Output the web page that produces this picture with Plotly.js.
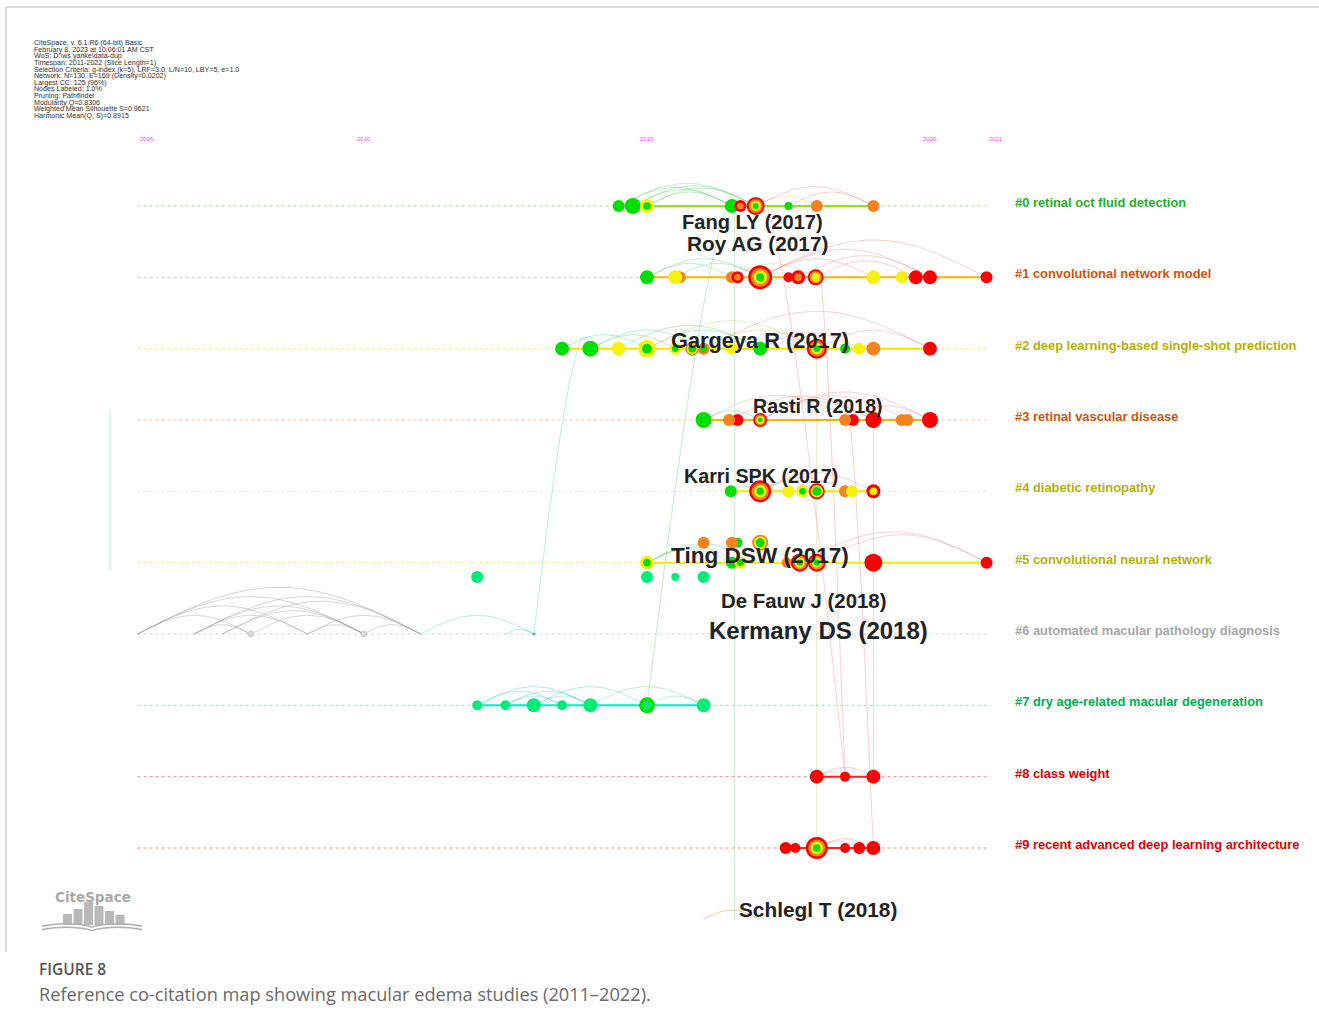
<!DOCTYPE html>
<html>
<head>
<meta charset="utf-8">
<script src="https://cdn.plot.ly/plotly-3.0.1.min.js"></script>
<style>
  html, body { margin: 0; padding: 0; background: #fff; }
  #chart { width: 1319px; height: 1030px; }
</style>
</head>
<body>
<div id="chart"></div>
<script>
// ---------------------------------------------------------------
// Timeline view of the reference co-citation network (CiteSpace)
// ---------------------------------------------------------------

// Year ticks printed above the timelines
const yearTicks = [2006, 2010, 2015, 2020, 2021];

// Cluster names (one timeline per cluster)
const clusterNames = [
  '#0 retinal oct fluid detection',
  '#1 convolutional network model',
  '#2 deep learning-based single-shot prediction',
  '#3 retinal vascular disease',
  '#4 diabetic retinopathy',
  '#5 convolutional neural network',
  '#6 automated macular pathology diagnosis',
  '#7 dry age-related macular degeneration',
  '#8 class weight',
  '#9 recent advanced deep learning architecture'
];

// Cited references: publication year, citation frequency,
// citation tree-ring colours (outer ring -> inner ring)
const c0Year = [2014.5, 2014.75, 2015, 2016.5, 2016.65, 2016.92, 2017.5, 2018, 2019];
const c0Freq = [6, 8, 7, 7, 6, 9, 4, 6, 6];
const c0Ring = ['g', 'g', 'yg', 'g', 'ro', 'royg', 'g', 'o', 'o'];

const c1Year = [2015, 2015.58, 2015.5, 2016.5, 2016.6, 2017, 2017.5, 2017.67, 2017.98, 2019, 2019.5, 2019.75, 2020, 2021];
const c1Freq = [7, 6, 7, 6, 6, 12, 5, 7, 8, 7, 6, 7, 7, 6];
const c1Ring = ['g', 'o', 'y', 'o', 'ro', 'royg', 'r', 'ro', 'roy', 'y', 'y', 'r', 'r', 'r'];

const c2Year = [2013.5, 2014, 2014.5, 2015, 2015.5, 2016, 2015.8, 2016.5, 2017, 2018, 2018.5, 2018.75, 2019, 2020];
const c2Freq = [7, 8, 7, 9, 6, 6, 7, 6, 7, 10, 5, 6, 7, 7];
const c2Ring = ['g', 'g', 'y', 'yg', 'yg', 'og', 'oyg', 'y', 'g', 'royg', 'g', 'y', 'o', 'r'];

const c3Year = [2016, 2016.6, 2016.45, 2017, 2018.64, 2018.5, 2019, 2019.6, 2019.5, 2020];
const c3Freq = [8, 6, 6, 7, 6, 6, 8, 6, 6, 8];
const c3Ring = ['g', 'r', 'o', 'royg', 'r', 'o', 'r', 'o', 'o', 'r'];

const c4Year = [2016.48, 2017, 2017.5, 2017.75, 2018, 2018.5, 2018.62, 2019];
const c4Freq = [6, 11, 6, 6, 8, 6, 6, 7];
const c4Ring = ['g', 'royg', 'y', 'yg', 'ryg', 'o', 'y', 'ry'];

const c5Year = [2015, 2016.5, 2016.65, 2017.47, 2017.7, 2018, 2019, 2021];
const c5Freq = [7, 6, 6, 5, 9, 9, 9, 6];
const c5Ring = ['yg', 'g', 'yg', 'o', 'royg', 'royg', 'r', 'r'];

// references of cluster #5 stacked above / below its timeline
const c5UpYear = [2016, 2016.6, 2016.5, 2017];
const c5UpFreq = [6, 5, 6, 8];
const c5UpRing = ['o', 'g', 'o', 'oyg'];

const c5LowYear = [2012, 2015, 2015.5, 2016];
const c5LowFreq = [6, 6, 4, 6];
const c5LowRing = ['s', 's', 's', 's'];

const c6Year = [2008, 2010, 2013];
const c6Freq = [3, 3, 1.5];
const c6Ring = ['a', 'a', 'c'];

const c7Year = [2012, 2012.5, 2013, 2013.5, 2014, 2015, 2016];
const c7Freq = [5, 5, 7, 5, 7, 8, 7];
const c7Ring = ['s', 's', 's', 's', 's', 'gs', 's'];

const c8Year = [2018, 2018.5, 2019];
const c8Freq = [7, 5, 7];
const c8Ring = ['r', 'r', 'r'];

const c9Year = [2017.45, 2017.62, 2018, 2018.5, 2018.75, 2019];
const c9Freq = [6, 5, 11, 5, 6, 7];
const c9Ring = ['r', 'r', 'royg', 'r', 'r', 'r'];

// Co-citation links inside each cluster: [year A, year B]
const c0Links = [[2014.5, 2016.5], [2014.75, 2016.92], [2015, 2016.5], [2014.75, 2016.5], [2015, 2016.92], [2014.5, 2016.92], [2016.92, 2018], [2016.92, 2019], [2017.5, 2019]];
const c1Links = [[2015, 2017], [2015.5, 2017], [2015, 2016.5], [2017, 2019], [2017, 2020], [2017.67, 2020], [2017.98, 2019.75], [2016.5, 2017.98], [2017, 2021]];
const c2Links = [[2013.5, 2015], [2014, 2015.5], [2014, 2016], [2015, 2017], [2015, 2018], [2016, 2018], [2014.5, 2017], [2017, 2018.75], [2018, 2020], [2016, 2020]];
const c3Links = [[2016, 2017], [2016.45, 2019], [2017, 2019], [2017, 2020], [2018.5, 2020], [2016, 2018.64], [2017, 2019.6]];
const c4Links = [[2017, 2018], [2017, 2019], [2017.5, 2018.62], [2016.48, 2017], [2017, 2018.5]];
const c5Links = [[2015, 2016.65], [2015, 2017], [2017.7, 2021], [2018, 2021], [2016.5, 2017.7], [2015, 2016.5]];
const c6Links = [[2006, 2011], [2006, 2010], [2006, 2009], [2006, 2008], [2007, 2011], [2007, 2010], [2007, 2009],
                 [2007.5, 2011], [2007.5, 2010], [2008, 2010], [2009, 2011], [2009, 2010], [2010, 2011], [2007, 2008],
                 [2011, 2013], [2012.5, 2013]];
const c7Links = [[2012, 2014], [2012, 2013.5], [2012.5, 2014], [2013, 2014], [2013, 2015], [2014, 2016], [2015, 2016], [2012.5, 2013.5]];
const c8Links = [[2018, 2019], [2018, 2018.5]];
const c9Links = [[2017.45, 2018], [2018, 2019], [2018, 2018.75]];
const c10Links = [[2016, 2017]];

// Links between clusters: [year A, cluster A, year B, cluster B]
const crossLinks = [
  [2016.55, 0, 2016.55, 10],
  [2013, 6, 2014, 2],
  [2015, 7, 2016.65, 0],
  [2016.92, 0, 2018.5, 8],
  [2018, 1, 2018.5, 8],
  [2018.5, 3, 2019, 9],
  [2019, 3, 2019, 8],
  [2018, 2, 2018, 9]
];

// Labelled references
const refLabels = ['Fang LY (2017)', 'Roy AG (2017)', 'Gargeya R (2017)', 'Rasti R (2018)', 'Karri SPK (2017)',
                   'Ting DSW (2017)', 'De Fauw J (2018)', 'Kermany DS (2018)', 'Schlegl T (2018)'];

// Network summary printed in the corner
const infoLines = [
  'CiteSpace, v. 6.1.R6 (64-bit) Basic',
  'February 8, 2023 at 10:06:01 AM CST',
  'WoS: D:\\ws yanke\\data-dup',
  'Timespan: 2011-2022 (Slice Length=1)',
  'Selection Criteria: g-index (k=5), LRF=3.0, L/N=10, LBY=5, e=1.0',
  'Network: N=130, E=169 (Density=0.0202)',
  'Largest CC: 125 (96%)',
  'Nodes Labeled: 1.0%',
  'Pruning: Pathfinder',
  'Modularity Q=0.8306',
  'Weighted Mean Silhouette S=0.9621',
  'Harmonic Mean(Q, S)=0.8915'
];

const figureTag = 'FIGURE 8';
const figureCaption = 'Reference co-citation map showing macular edema studies (2011\u20132022).';

// ---------------------------------------------------------------
// Styling
// ---------------------------------------------------------------
const W = 1319, H = 1030;
const X_RANGE = [2003.569, 2026.873];
const Y_RANGE = [11.552, -2.888];     // cluster lanes, top to bottom
const px = x => x / W;                // page pixel -> paper
const py = y => 1 - y / H;

const RING = { g: '#00e000', y: '#f7f20a', o: '#f5821e', r: '#fa0000', s: '#00ec78', a: '#dadada', c: '#12d8a8' };
const labelColor = ['#1fb41f', '#d4540c', '#b4b400', '#d4540c', '#b4b400', '#b4b400', '#a8a8a8', '#00b050', '#e40000', '#e40000'];
const lineColor  = ['#86f000', '#ffb400', '#f2e600', '#ffb000', '#f2ea00', '#f2ea00', null, '#00f0c0', '#ff1e1e', '#ff1e1e'];
const dotColor   = ['#9ee89e', '#ffb39a', '#ecec90', '#ffbe9a', '#ecec90', '#ecec90', '#d6d6d6', '#7febd0', '#ff8c8c', '#ff8c8c'];

function linkColor(y) {
  if (y <= 2011) return 'rgba(150,150,150,0.38)';
  if (y <= 2015) return 'rgba(0,200,170,0.30)';
  if (y < 2017.5) return 'rgba(40,190,70,0.28)';
  if (y < 2018.5) return 'rgba(190,190,90,0.32)';
  return 'rgba(240,90,90,0.28)';
}

const traces = [];

// dotted cluster timelines
for (let c = 0; c < clusterNames.length; c++) {
  traces.push({
    x: [yearTicks[0], yearTicks[yearTicks.length - 1]], y: [c, c], mode: 'lines',
    line: { color: dotColor[c], width: 1, dash: 'dot' }, hoverinfo: 'skip', showlegend: false
  });
}

// arcs inside each cluster
const clusterLinks = [c0Links, c1Links, c2Links, c3Links, c4Links, c5Links, c6Links, c7Links, c8Links, c9Links, c10Links];
const arcBuckets = {};
clusterLinks.forEach((links, lane) => {
  links.forEach(([a, b]) => {
    const col = lane === 10 ? 'rgba(200,180,110,0.55)' : linkColor(Math.max(a, b));
    const bucket = arcBuckets[col] || (arcBuckets[col] = { x: [], y: [] });
    const h = 0.131 * Math.abs(b - a);
    for (let i = 0; i <= 30; i++) {
      const t = i / 30;
      bucket.x.push(a + (b - a) * t);
      bucket.y.push(lane - h * Math.sin(Math.PI * t));
    }
    bucket.x.push(null); bucket.y.push(null);
  });
});

// curved links between clusters
crossLinks.forEach(([xa, la, xb, lb]) => {
  const col = linkColor(Math.max(xa, xb));
  const bucket = arcBuckets[col] || (arcBuckets[col] = { x: [], y: [] });
  if (Math.abs(xb - xa) < 0.2) {
    bucket.x.push(xa, xb, null); bucket.y.push(la, lb, null);
    return;
  }
  const up = la < lb ? [xa, la] : [xb, lb];
  const dn = la < lb ? [xb, lb] : [xa, la];
  const cx = up[0] + 0.25 * (dn[0] - up[0]);
  const cy = up[1] - 1;
  for (let i = 0; i <= 40; i++) {
    const t = i / 40;
    bucket.x.push((1 - t) * (1 - t) * dn[0] + 2 * t * (1 - t) * cx + t * t * up[0]);
    bucket.y.push((1 - t) * (1 - t) * dn[1] + 2 * t * (1 - t) * cy + t * t * up[1]);
  }
  bucket.x.push(null); bucket.y.push(null);
});
Object.keys(arcBuckets).forEach(col => {
  traces.push({ x: arcBuckets[col].x, y: arcBuckets[col].y, mode: 'lines',
    line: { color: col, width: 1 }, hoverinfo: 'skip', showlegend: false });
});

// node groups: timeline lane, data
const groups = [
  { lane: 0, cl: 0, year: c0Year, freq: c0Freq, ring: c0Ring },
  { lane: 1, cl: 1, year: c1Year, freq: c1Freq, ring: c1Ring },
  { lane: 2, cl: 2, year: c2Year, freq: c2Freq, ring: c2Ring },
  { lane: 3, cl: 3, year: c3Year, freq: c3Freq, ring: c3Ring },
  { lane: 4, cl: 4, year: c4Year, freq: c4Freq, ring: c4Ring },
  { lane: 5, cl: 5, year: c5Year, freq: c5Freq, ring: c5Ring },
  { lane: 4.72, cl: null, year: c5UpYear, freq: c5UpFreq, ring: c5UpRing },
  { lane: 5.2, cl: null, year: c5LowYear, freq: c5LowFreq, ring: c5LowRing },
  { lane: 6, cl: 6, year: c6Year, freq: c6Freq, ring: c6Ring },
  { lane: 7, cl: 7, year: c7Year, freq: c7Freq, ring: c7Ring },
  { lane: 8, cl: 8, year: c8Year, freq: c8Freq, ring: c8Ring },
  { lane: 9, cl: 9, year: c9Year, freq: c9Freq, ring: c9Ring }
];

// solid timeline spanning each cluster's references
groups.forEach(g => {
  if (g.cl === null || !lineColor[g.cl]) return;
  const lo = Math.min(...g.year), hi = Math.max(...g.year);
  traces.push({ x: [lo, hi], y: [g.lane, g.lane], mode: 'lines',
    line: { color: lineColor[g.cl], width: 2 }, hoverinfo: 'skip', showlegend: false });
});

// citation tree rings, outer ring first
groups.forEach(g => {
  for (let level = 0; level < 4; level++) {
    const xs = [], ys = [], ss = [], cs = [];
    g.year.forEach((yr, i) => {
      const rings = g.ring[i];
      if (rings.length <= level) return;
      const step = rings.length === 2 ? 0.45 : 0.22;
      xs.push(yr); ys.push(g.lane);
      ss.push(2 * g.freq[i] * (1 - level * step));
      cs.push(RING[rings[level]]);
    });
    if (!xs.length) continue;
    traces.push({ x: xs, y: ys, mode: 'markers', hoverinfo: 'skip', showlegend: false,
      marker: { size: ss, color: cs, opacity: 1,
                line: { width: level === 0 && g.lane === 6 ? 0.6 : 0, color: '#bdbdbd' } } });
  }
});

// ---------------------------------------------------------------
// Text
// ---------------------------------------------------------------
const annotations = [];
const FONT = 'Arial, "Liberation Sans", sans-serif';

infoLines.forEach((t, i) => annotations.push({
  xref: 'paper', yref: 'paper', x: px(32), y: py(43 + i * 6.64), xanchor: 'left', yanchor: 'middle',
  text: t, showarrow: false, font: { family: FONT, size: 7.1, color: '#333' }
}));

yearTicks.forEach((yr, i) => annotations.push({
  x: yr, y: -0.94, xanchor: (i === 0 || i === yearTicks.length - 1) ? 'left' : 'center', yanchor: 'middle',
  text: String(yr), showarrow: false, font: { family: FONT, size: 6, color: '#ff3cff' }
}));

clusterNames.forEach((t, c) => annotations.push({
  xref: 'paper', x: px(1013), y: c - 0.05, xanchor: 'left', yanchor: 'middle', text: '<b>' + t + '</b>',
  showarrow: false, font: { family: FONT, size: 12.9, color: labelColor[c] }
}));

// reference label placement (page pixels) and size
const labelPlace = [[752, 222, 20.1], [757, 244, 20.8], [760, 340, 21.8], [818, 406, 19.6], [761, 476, 19.7],
                    [760, 555, 22.6], [803, 601, 20.4], [818, 630, 24], [818, 909, 20.8]];
refLabels.forEach((t, i) => annotations.push({
  xref: 'paper', yref: 'paper', x: px(labelPlace[i][0]), y: py(labelPlace[i][1]), xanchor: 'center', yanchor: 'middle',
  text: '<b>' + t + '</b>', showarrow: false, font: { family: FONT, size: labelPlace[i][2], color: '#222' }
}));

// logo and caption
annotations.push({ xref: 'paper', yref: 'paper', x: px(93), y: py(897), xanchor: 'center', yanchor: 'middle',
  text: '<b>CiteSpace</b>', showarrow: false, font: { family: '"DejaVu Sans", sans-serif', size: 13.5, color: '#a9a9a9' } });
annotations.push({ xref: 'paper', yref: 'paper', x: px(37), y: py(969), xanchor: 'left', yanchor: 'middle',
  text: figureTag, showarrow: false, font: { family: '"Open Sans", sans-serif', size: 15.5, color: '#555', weight: 600 } });
annotations.push({ xref: 'paper', yref: 'paper', x: px(37), y: py(994), xanchor: 'left', yanchor: 'middle',
  text: figureCaption, showarrow: false, font: { family: '"Open Sans", sans-serif', size: 18.2, color: '#6a6a6a', weight: 400 } });

// ---------------------------------------------------------------
// Frame and logo graphics
// ---------------------------------------------------------------
const shapes = [
  { type: 'line', xref: 'paper', yref: 'paper', x0: px(6), x1: px(1319), y0: py(7), y1: py(7), line: { color: '#cfcfcf', width: 1.5 } },
  { type: 'line', xref: 'paper', yref: 'paper', x0: px(6), x1: px(6), y0: py(7), y1: py(952), line: { color: '#cfcfcf', width: 1.5 } },
  { type: 'line', xref: 'paper', yref: 'paper', x0: px(110), x1: px(110), y0: py(410), y1: py(570), line: { color: '#a6eeee', width: 1 } }
];
const barTops = [914, 909, 902, 906, 911, 915];
barTops.forEach((top, i) => shapes.push({
  type: 'rect', xref: 'paper', yref: 'paper', x0: px(63 + i * 10.5), x1: px(72 + i * 10.5), y0: py(925), y1: py(top),
  fillcolor: '#b9b9b9', line: { width: 0 }
}));
const bookPath = (y0) => `M ${px(42)} ${py(y0)} Q ${px(70)} ${py(y0 - 5)} ${px(92)} ${py(y0 + 1)} Q ${px(114)} ${py(y0 - 5)} ${px(142)} ${py(y0)}`;
[926, 929.5].forEach(y0 => shapes.push({ type: 'path', xref: 'paper', yref: 'paper', path: bookPath(y0),
  line: { color: '#b0b0b0', width: 1.4 } }));

const layout = {
  width: W, height: H,
  margin: { l: 0, r: 0, t: 0, b: 0 },
  paper_bgcolor: '#ffffff', plot_bgcolor: '#ffffff',
  xaxis: { range: X_RANGE, visible: false, fixedrange: true },
  yaxis: { range: Y_RANGE, visible: false, fixedrange: true },
  showlegend: false,
  annotations, shapes
};

Plotly.newPlot('chart', traces, layout, { staticPlot: true, displayModeBar: false });
</script>
</body>
</html>
